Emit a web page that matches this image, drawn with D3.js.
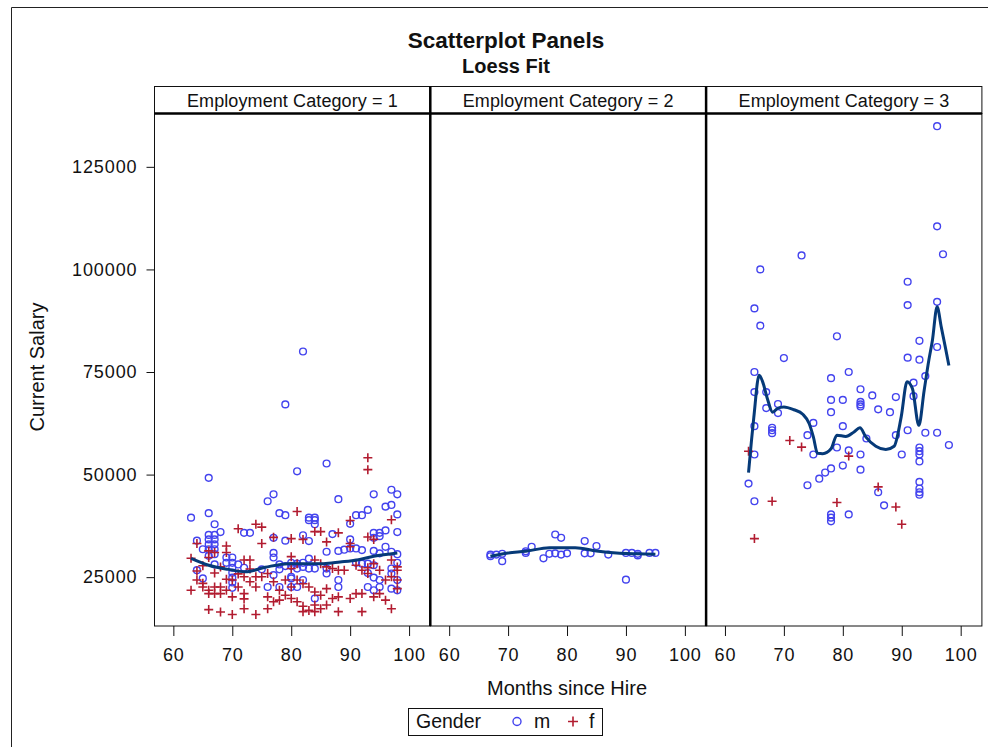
<!DOCTYPE html>
<html>
<head>
<meta charset="utf-8">
<script src="https://cdn.jsdelivr.net/npm/d3@7"></script>
<style>
body{margin:0;background:#fff;}
svg text{font-family:"Liberation Sans",Arial,sans-serif;fill:#111;}
</style>
</head>
<body>
<div id="chart"></div>
<script>
// values: [months since hire, current salary]
const categories = [1, 2, 3];
const xTicks = [60, 70, 80, 90, 100];
const yTicks = [25000, 50000, 75000, 100000, 125000];
const genders = ['m', 'f'];

const cat1Male = [
  [63,39500],[66,49200],[66,40600],[67,37900],[68,36000],[72,35800],[73,35800],[77,34600],[79,33900],
  [66,35300],[67,35300],[66,34200],[67,34200],[66,33000],[67,33000],[66,31800],[67,31800],
  [64,33900],[65,31800],[66,30200],[67,30600],[67,28100],[64,26700],[65,24700],
  [70,29800],[70,28500],[70,27300],[70,26100],[70,24900],[70,23700],[70,22400],
  [69,29800],[69,28500],[71,28100],[72,27300],[77,30900],[77,29800],[78,28100],[78,26900],[77,25500],
  [75,26900],[76,22600],[78,22600],[79,27700],[80,27700],[80,24700],[80,22600],
  [76,43500],[77,45200],[78,40600],[79,40100],[79,67100],[82,80000],[81,50800],[86,52700],[88,44000],
  [94,45200],[97,46300],[98,45200],[96,42200],[97,42600],[93,41400],[92,40100],[91,40100],[98,40300],
  [83,39500],[84,39500],[83,38900],[84,38900],[84,37900],[90,38000],[82,35200],[83,33800],[87,35500],[90,34200],
  [94,35800],[95,35800],[96,36400],[95,35000],[94,34600],[98,36000],
  [86,31200],[88,31400],[89,31700],[90,32000],[91,32000],[92,31600],[94,31400],[95,30800],[96,32400],[97,31200],[98,30600],
  [80,28500],[81,28300],[82,28500],[83,29500],[82,27500],[83,27100],[81,27100],[84,27100],[86,27100],[86,25900],
  [88,24300],[88,22600],[81,22600],[80,25100],[82,24300],[84,19800],[93,22600],[94,21800],[95,22600],[97,22200],[98,21800],
  [91,28500],[92,28300],[93,28300],[94,27900],[93,26000],[94,24900],[95,24300],[97,27100],[97,25900],[98,28500],[98,24300]
];
const cat1Female = [
  [93,54100],[93,51200],[81,41000],[74,37900],[75,37200],[71,36800],[90,38800],[97,39000],
  [63,29600],[64,33200],[66,29800],[66,31400],[67,31000],[69,32600],[69,31000],[75,33200],[77,34700],
  [72,29200],[73,29200],[72,25100],[74,25100],[73,23900],[74,22600],[75,25100],
  [63,21800],[64,24300],[65,23500],[65,22600],[66,21800],[66,21000],[67,21000],[67,22600],[68,22600],[68,21000],
  [69,21800],[70,20200],[70,24300],[71,22600],[72,21000],[72,19700],
  [66,17100],[68,16500],[70,15900],[72,17300],[74,15900],[76,17300],
  [85,36100],[84,36100],[88,35800],[86,33600],[90,33200],[90,32400],[93,34800],[94,34200],[82,34200],[80,34400],
  [80,30000],[81,28300],[80,27100],[84,29200],[85,28300],[86,27500],[87,27100],[88,26700],[89,26700],
  [91,27900],[92,26700],[93,27300],[93,25900],[94,28300],[95,26700],[98,27500],[98,26700],[97,29200],
  [80,22600],[81,24300],[82,23400],[83,22600],[84,21400],[85,20600],[86,22200],[80,19800],[81,19000],[82,17900],
  [83,16900],[84,18200],[85,17300],[86,18200],[87,19800],[88,20200],[90,19800],[91,21000],[92,21000],[94,20200],
  [95,21000],[96,24300],[97,25100],[98,24300],[98,22200],[96,19400],[97,17300],[92,16600],[88,16600],[82,16600],[84,16600],
  [76,25900],[77,23900],[78,21800],[79,24300],[78,19400],[79,20600],[76,20200],[77,19000],
  [64,26500],[65,27800],[67,26000],[68,27500],[69,24500],[71,25800],[73,27000]
];
const cat2Male = [
  [67,30500],[68,30500],[69,28900],[69,30700],[73,31300],[74,32400],[76,29600],[77,30700],[78,35400],
  [79,34600],[78,30800],[79,30500],[80,30800],[83,33800],[83,30800],[84,30800],[85,32600],[87,30500],
  [90,24400],[90,30900],[91,30900],[92,30700],[94,30900],[95,30900],[92,30300],[73,30900],[67,30100]
];
const cat2Female = [];
const cat3Male = [
  [96,134900],[96,110500],[97,103700],[73,103400],[66,100000],[91,97000],[65,90500],[91,91300],[96,92100],
  [66,86300],[79,83700],[93,82600],[96,81100],[70,78400],[91,78500],[93,78000],[65,75000],[81,75000],
  [78,73500],[94,74000],[92,72400],[65,70100],[67,70100],[83,70800],[85,69300],[89,68900],[92,69100],
  [78,68200],[80,68200],[83,67700],[83,67100],[83,66600],[67,66200],[69,67200],[69,65000],[86,65900],
  [88,65200],[78,65200],[75,62600],[65,61800],[68,61400],[68,60800],[68,60100],[80,61800],[91,60800],
  [94,60200],[96,60200],[74,59600],[89,59600],[84,58800],[98,57200],[79,56600],[81,55900],[65,54900],
  [75,54900],[83,54900],[90,54900],[93,56600],[93,55700],[93,54900],[93,53200],[78,51500],[77,50500],
  [76,49000],[80,52200],[83,51200],[74,47400],[64,47800],[93,48200],[93,46600],[93,45700],[93,45100],
  [86,45700],[87,42500],[65,43500],[78,40300],[78,39500],[78,38600],[81,40300]
];
const cat3Female = [
  [64,55700],[71,58300],[73,56700],[81,54500],[68,43500],[79,43200],[86,47000],[89,42100],[90,37900],[65,34400]
];

// loess fit curves
const loess1 = [[63,29600],[66,27900],[69.3,26900],[72.2,26300],[75.6,27400],[79.5,28300],[82,28300],
  [85.5,28300],[88.3,28700],[91.2,29200],[94,30100],[98,30900]];
const loess2 = [[67,30100],[70,30900],[73,31300],[77,32200],[81.4,32200],[85,31400],[88.4,30900],
  [91.8,30700],[95,30600]];
const loess3 = [[64,50500],[64.5,58300],[64.9,64000],[65.8,74200],[66.4,72600],[67.2,68500],[68.1,65200],
  [68.9,66100],[70,66500],[71.7,65800],[73.2,64700],[74.3,62400],[75,59200],[75.7,55200],[76.6,55100],
  [78,56300],[79,59600],[80.5,59300],[81.9,60400],[82.9,61400],[83.9,59200],[85.6,56900],[87.3,56100],
  [88.7,56900],[89.9,64000],[90.9,72600],[91.8,71000],[92.9,62000],[93.8,70500],[94.6,77900],[95.2,82700],
  [96,90900],[96.7,86000],[97.4,81000],[98,76600]];

const panels = [
  {cat: categories[0], m: cat1Male, f: cat1Female, fit: loess1},
  {cat: categories[1], m: cat2Male, f: cat2Female, fit: loess2},
  {cat: categories[2], m: cat3Male, f: cat3Female, fit: loess3}
];

const W = 988, H = 747;
const left = 154.5, panelW = 275.8;
const stripTop = 86.5, plotTop = 113.5, plotBottom = 626;
const blue = '#4343ee', red = '#b21c30', navy = '#063a78';
const fs = 18;

const x = d3.scaleLinear().domain([56.8, 103.6]).range([0, panelW]);
const y = d3.scaleLinear().domain([13100, 138000]).range([plotBottom, plotTop]);

const svg = d3.select('#chart').append('svg')
  .attr('width', W).attr('height', H);

// outer frame
svg.append('path').attr('d', `M11.5,${H}V7.5H${W}`)
  .attr('fill', 'none').attr('stroke', '#222').attr('stroke-width', 1);

svg.append('text').attr('x', 506).attr('y', 48).attr('text-anchor', 'middle')
  .attr('font-size', 22.5).attr('font-weight', 'bold').text('Scatterplot Panels');
svg.append('text').attr('x', 506).attr('y', 73).attr('text-anchor', 'middle')
  .attr('font-size', 20).attr('font-weight', 'bold').text('Loess Fit');

const crossPath = 'M-4.5,0H4.5M0,-4.5V4.5';
const line = d3.line().x(d => x(d[0])).y(d => y(d[1])).curve(d3.curveMonotoneX);

panels.forEach((p, i) => {
  const g = svg.append('g').attr('transform', `translate(${left + i * panelW},0)`);

  // strip header
  g.append('rect').attr('x', 0).attr('y', stripTop).attr('width', panelW).attr('height', plotTop - stripTop)
    .attr('fill', '#fff').attr('stroke', '#111').attr('stroke-width', 1);
  g.append('text').attr('x', panelW / 2).attr('y', 107).attr('text-anchor', 'middle')
    .attr('font-size', fs).attr('letter-spacing', 0.1).text(`Employment Category = ${p.cat}`);

  g.append('rect').attr('x', 0).attr('y', plotTop).attr('width', panelW).attr('height', plotBottom - plotTop)
    .attr('fill', 'none').attr('stroke', '#111').attr('stroke-width', 1);

  g.append('g').selectAll('circle').data(p.m).join('circle')
    .attr('cx', d => x(d[0])).attr('cy', d => y(d[1])).attr('r', 3.4)
    .attr('fill', 'none').attr('stroke', blue).attr('stroke-width', 1.4);

  g.append('g').selectAll('path').data(p.f).join('path')
    .attr('transform', d => `translate(${x(d[0])},${y(d[1])})`)
    .attr('d', crossPath).attr('stroke', red).attr('stroke-width', 1.6);

  g.append('path').datum(p.fit).attr('d', line)
    .attr('fill', 'none').attr('stroke', navy).attr('stroke-width', 3);

  const ax = g.append('g').attr('transform', `translate(0,${plotBottom})`)
    .call(d3.axisBottom(x).tickValues(xTicks).tickSize(10).tickPadding(12).tickSizeOuter(0));
  ax.select('.domain').remove();
  ax.selectAll('line').attr('stroke', '#111');
  ax.selectAll('text').attr('font-size', fs).attr('letter-spacing', 0.9)
    .attr('font-family', null).attr('fill', '#222');
});

// thick lines between panels and under the strips
svg.append('line').attr('x1', left).attr('x2', left + 3 * panelW).attr('y1', plotTop).attr('y2', plotTop)
  .attr('stroke', '#000').attr('stroke-width', 2.5);
[1, 2].forEach(k => {
  svg.append('line').attr('x1', left + k * panelW).attr('x2', left + k * panelW)
    .attr('y1', stripTop).attr('y2', plotBottom).attr('stroke', '#000').attr('stroke-width', 2.5);
});

const ay = svg.append('g').attr('transform', `translate(${left},0)`)
  .call(d3.axisLeft(y).tickValues(yTicks).tickFormat(d3.format('d')).tickSize(8).tickPadding(9).tickSizeOuter(0));
ay.select('.domain').remove();
ay.selectAll('line').attr('stroke', '#111');
ay.selectAll('text').attr('font-size', fs).attr('letter-spacing', 0.9)
  .attr('font-family', null).attr('fill', '#222');

svg.append('text').attr('transform', 'translate(44,367) rotate(-90)').attr('text-anchor', 'middle')
  .attr('font-size', 20).text('Current Salary');
svg.append('text').attr('x', 567).attr('y', 695).attr('text-anchor', 'middle')
  .attr('font-size', 20).text('Months since Hire');

// legend
const lg = svg.append('g');
lg.append('rect').attr('x', 408.5).attr('y', 708.5).attr('width', 194).attr('height', 27)
  .attr('fill', '#fff').attr('stroke', '#111');
lg.append('text').attr('x', 416).attr('y', 728).attr('font-size', 19.5).text('Gender');
lg.append('circle').attr('cx', 517).attr('cy', 721.5).attr('r', 4)
  .attr('fill', 'none').attr('stroke', blue).attr('stroke-width', 1.4);
lg.append('text').attr('x', 534).attr('y', 728).attr('font-size', 19.5).text(genders[0]);
lg.append('path').attr('transform', 'translate(573,721.5)').attr('d', 'M-5,0H5M0,-5V5')
  .attr('stroke', red).attr('stroke-width', 1.6);
lg.append('text').attr('x', 589).attr('y', 728).attr('font-size', 19.5).text(genders[1]);
</script>
</body>
</html>
